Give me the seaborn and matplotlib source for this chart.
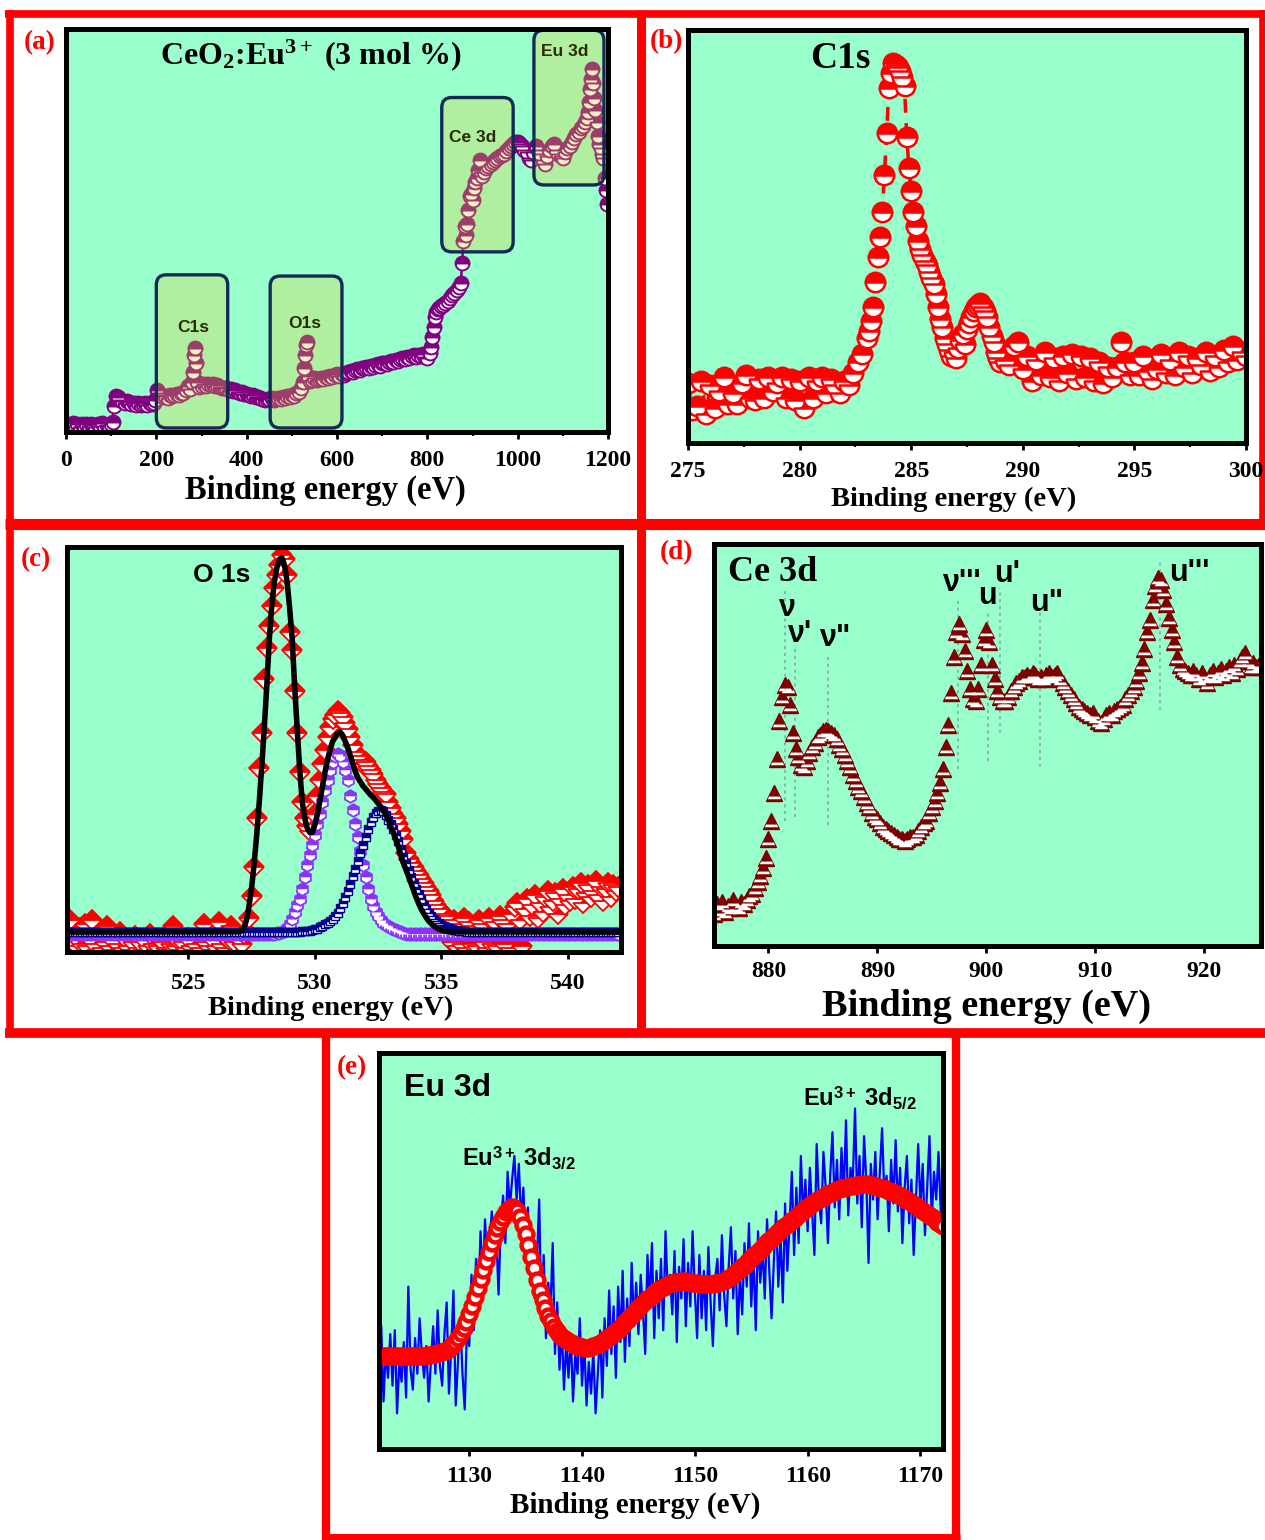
import numpy as np
import matplotlib
matplotlib.use("Agg")
import matplotlib.pyplot as plt
import seaborn as sns
from matplotlib.patches import FancyBboxPatch
from matplotlib.lines import Line2D
from matplotlib.path import Path

# ---------------- (a) survey spectrum ----------------
survey_ev = [
    0, 5, 10, 15, 20, 25, 30, 35, 40, 45,
    50, 55, 60, 65, 70, 75, 80, 85, 90, 95,
    100, 103, 106, 110, 115, 120, 125, 130, 135, 140,
    145, 150, 155, 160, 165, 170, 175, 180, 185, 190,
    195, 198, 201, 205, 210, 215, 220, 225, 230, 235,
    240, 245, 250, 255, 260, 265, 270, 275, 280, 282,
    284, 286, 288, 290, 295, 300, 305, 310, 315, 320,
    325, 330, 335, 340, 345, 350, 355, 360, 365, 370,
    375, 380, 385, 390, 395, 400, 405, 410, 415, 420,
    425, 430, 435, 440, 445, 450, 455, 460, 465, 470,
    475, 480, 485, 490, 495, 500, 505, 510, 515, 520,
    524, 527, 529, 531, 533, 536, 540, 545, 550, 555,
    560, 565, 570, 575, 580, 585, 590, 595, 600, 605,
    610, 615, 620, 625, 630, 635, 640, 645, 650, 655,
    660, 665, 670, 675, 680, 685, 690, 695, 700, 705,
    710, 715, 720, 725, 730, 735, 740, 745, 750, 755,
    760, 765, 770, 775, 780, 785, 790, 795, 800, 805,
    808, 811, 814, 817, 820, 823, 826, 830, 835, 840,
    845, 850, 855, 860, 865, 870, 874, 877, 880, 883,
    885, 888, 891, 894, 897, 900, 903, 906, 910, 913,
    916, 919, 922, 926, 930, 935, 940, 945, 950, 955,
    960, 965, 970, 975, 980, 985, 990, 995, 1000, 1005,
    1010, 1015, 1020, 1025, 1030, 1035, 1040, 1045, 1050, 1055,
    1060, 1065, 1070, 1075, 1080, 1085, 1090, 1095, 1100, 1105,
    1110, 1115, 1120, 1125, 1130, 1135, 1140, 1145, 1150, 1153,
    1156, 1159, 1161, 1163, 1165, 1167, 1169, 1172, 1175, 1178,
    1181, 1184, 1187, 1190, 1193, 1195, 1197,
]
survey_counts = [
    2.0, 1.4, 1.8, 2.3, 1.5, 1.9, 1.2, 2.1, 1.6, 1.9,
    1.4, 2.0, 1.7, 1.3, 1.9, 1.6, 2.2, 1.5, 1.8, 1.6,
    2.0, 2.6, 6.5, 9.0, 8.6, 8.0, 7.6, 7.2, 7.8, 7.4,
    7.0, 7.3, 6.8, 7.2, 6.6, 7.0, 7.3, 6.8, 7.1, 6.9,
    7.2, 8.0, 10.3, 9.8, 9.2, 8.7, 9.0, 8.5, 9.3, 8.9,
    9.2, 9.5, 9.1, 9.8, 9.6, 10.4, 11.5, 10.6, 12.5, 15.0,
    19.0, 20.8, 17.0, 12.5, 11.2, 11.5, 11.8, 11.4, 11.9, 11.6,
    11.8, 11.3, 11.6, 11.2, 11.0, 10.8, 10.9, 10.5, 10.6, 10.2,
    10.3, 10.0, 9.8, 9.9, 9.5, 9.4, 9.2, 9.0, 9.1, 8.8,
    8.6, 8.5, 8.2, 8.0, 8.3, 8.1, 8.4, 8.0, 8.3, 8.5,
    8.2, 8.6, 8.4, 8.9, 8.7, 9.2, 9.0, 9.6, 10.0, 10.8,
    12.5, 16.0, 19.0, 21.5, 22.4, 14.0, 12.6, 13.0, 13.3, 12.8,
    13.1, 13.5, 13.2, 13.7, 13.5, 13.9, 13.7, 14.1, 14.3, 14.0,
    14.4, 14.2, 14.7, 14.9, 15.1, 14.8, 15.4, 15.6, 15.3, 15.8,
    15.9, 16.2, 16.0, 16.4, 16.2, 16.6, 16.8, 16.5, 17.0, 17.2,
    16.9, 17.4, 17.5, 17.3, 17.8, 17.6, 18.0, 18.3, 18.1, 18.6,
    18.4, 18.8, 19.0, 18.7, 19.1, 18.9, 19.3, 18.6, 18.4, 19.6,
    21.0, 23.5, 26.0, 28.5, 29.8, 30.4, 30.8, 31.2, 31.5, 31.9,
    32.5, 33.2, 33.9, 34.6, 35.2, 36.0, 37.0, 42.0, 47.5, 51.0,
    49.0, 51.5, 55.0, 58.5, 59.0, 57.5, 60.5, 62.0, 63.0, 65.0,
    67.5, 64.5, 63.5, 64.5, 65.5, 66.0, 66.5, 67.0, 67.5, 68.0,
    68.5, 68.8, 69.0, 69.8, 70.5, 71.0, 71.5, 72.0, 72.0, 71.5,
    71.0, 70.0, 69.5, 68.0, 67.5, 69.5, 71.0, 70.0, 69.0, 67.5,
    66.5, 68.5, 70.0, 71.0, 71.5, 70.0, 69.0, 68.5, 68.0, 69.5,
    70.5, 71.0, 72.0, 73.0, 74.0, 74.5, 75.5, 76.0, 77.0, 78.0,
    79.5, 82.0, 85.0, 87.5, 90.0, 86.5, 83.0, 80.0, 77.0, 73.5,
    71.5, 70.5, 69.0, 68.0, 63.0, 60.0, 56.5,
]
survey_ticks = [0, 200, 400, 600, 800, 1000, 1200]
region_names = ["C1s", "O1s", "Ce 3d", "Eu 3d"]
region_ev_lo = [200, 452, 832, 1036]
region_ev_hi = [358, 611, 990, 1191]
region_int_lo = [1.0, 1.0, 44.7, 61.3]
region_int_hi = [39.0, 38.7, 83.0, 99.7]
region_label_ev = [281, 529, 901, 1105]
region_label_int = [26.0, 27.0, 73.0, 94.3]

# ---------------- (b) C 1s ----------------
c1s_ev = np.round(np.concatenate([np.arange(275.0, 282.95, 0.2),
                                  np.arange(283.0, 288.95, 0.1),
                                  np.arange(289.0, 300.05, 0.2)]), 1)
c1s_counts = [
    14.5, 8.0, 9.0, 15.0, 7.0,
    14.0, 8.5, 12.5, 16.0, 9.5,
    12.0, 9.5, 14.5, 16.5, 11.0,
    10.5, 15.5, 11.0, 16.0, 12.5,
    14.5, 16.0, 11.0, 15.5, 10.5,
    15.0, 8.5, 16.0, 11.0, 15.0,
    16.0, 12.0, 15.5, 14.0, 12.0,
    15.0, 14.0, 17.0, 19.5, 21.5,
    25.5, 27.0, 29.5, 33.0, 39.0, 45.0, 50.0, 56.0, 65.0, 75.0,
    86.0, 89.5, 92.0, 91.5, 91.0, 90.0, 88.5, 86.5, 74.0, 66.5,
    61.0, 56.0, 52.5, 49.0, 47.0, 45.5, 44.0, 43.0, 41.5, 40.0,
    38.5, 36.0, 33.0, 30.0, 28.0, 25.5, 24.0, 22.5, 21.0, 22.0,
    20.5, 23.0, 25.0, 26.5, 24.0, 27.5, 29.0, 30.5, 32.0, 33.0,
    33.5, 34.0, 33.0, 32.0, 30.5, 28.0, 26.0, 24.5, 22.0, 20.5,
    19.5, 20.0, 19.0, 23.5, 24.5,
    18.0, 21.0, 15.0, 20.0, 16.5,
    22.0, 16.0, 20.5, 15.0, 21.0,
    17.0, 21.5, 15.5, 21.0, 16.0,
    20.5, 15.0, 19.5, 14.5, 18.5,
    16.0, 18.5, 24.5, 19.5, 16.5,
    19.5, 16.5, 21.0, 17.5, 15.5,
    18.0, 21.5, 17.0, 20.0, 16.5,
    22.0, 18.5, 21.0, 17.0, 20.5,
    19.0, 22.0, 17.5, 21.0, 18.5,
    22.5, 19.5, 23.5, 20.0, 22.0,
    21.0,
]
c1s_ticks = [275, 280, 285, 290, 295, 300]

# ---------------- (c) O 1s ----------------
o1s_ev = np.round(np.arange(520.0, 542.05, 0.1), 1)
o1s_counts = [
    7.5, 3.0, 1.0, 8.0, 2.5, 4.0, 1.5, 6.0, 2.0, 7.0,
    1.5, 3.5, 8.0, 2.0, 0.5, 4.5, 1.0, 2.5, 6.5, 1.5,
    3.0, 0.5, 2.0, 5.0, 1.0, 3.5, 1.5, 0.5, 2.5, 4.0,
    1.0, 2.5, 0.5, 3.0, 1.5, 4.5, 2.0, 0.5, 1.5, 3.0,
    2.5, 1.0, 0.5, 2.0, 6.5, 1.5, 3.0, 0.5, 2.5, 1.0,
    3.5, 1.5, 0.5, 2.0, 4.0, 1.0, 7.0, 2.5, 1.5, 0.5,
    3.0, 1.5, 7.5, 2.0, 4.0, 1.0, 3.0, 6.5, 2.5, 4.0,
    3.5, 2.0, 4.5, 5.0, 8.5, 13.8, 21.0, 33.0, 45.5, 54.0,
    67.5, 75.0, 80.5, 85.5, 90.0, 93.0, 95.5, 98.0, 97.0, 93.0,
    79.0, 74.5, 64.5, 54.0, 44.5, 37.0, 33.0, 31.0, 30.0, 31.5,
    34.0, 38.5, 42.5, 46.5, 50.0, 53.0, 55.5, 57.5, 58.5, 59.5,
    59.0, 58.0, 56.5, 55.0, 53.0, 51.0, 49.5, 48.5, 47.5, 46.5,
    47.0, 46.0, 45.0, 44.0, 42.5, 41.5, 40.5, 39.5, 39.0, 37.0,
    35.5, 34.0, 33.0, 31.5, 30.0, 28.0, 24.5, 23.0, 22.0, 21.0,
    20.0, 19.0, 18.0, 17.0, 16.0, 15.0, 14.0, 12.5, 11.5, 10.5,
    9.5, 8.5, 9.0, 7.5, 2.5, 8.0, 1.5, 7.0, 2.0, 8.5,
    1.0, 7.5, 2.0, 6.5, 1.5, 8.0, 7.0, 2.5, 1.0, 8.5,
    2.0, 7.5, 1.5, 9.0, 8.0, 2.0, 7.0, 1.0, 9.5, 11.0,
    12.0, 8.0, 1.5, 10.5, 13.0, 9.0, 11.5, 14.0, 8.5, 12.0,
    10.0, 13.5, 15.0, 11.0, 12.5, 14.5, 9.5, 13.0, 15.5, 11.5,
    14.0, 12.5, 16.0, 13.0, 15.5, 17.0, 12.0, 14.5, 16.5, 13.5,
    15.0, 17.5, 14.0, 16.0, 12.5, 15.5, 17.0, 13.5, 16.5, 15.0,
    16.0,
]
# deconvoluted component near 531 eV (same energy grid)
o1s_comp_531 = [4.5] * 85 + [
    4.6, 4.7, 4.9, 5.2, 6.0, 7.0, 8.2, 9.8, 11.5, 13.0,
    15.5, 18.5, 21.5, 24.0, 26.5, 29.0, 31.5, 34.0, 37.0, 40.0,
    42.5, 45.0, 47.0, 48.5, 49.0, 48.5, 47.0, 45.0, 42.5, 38.5,
    35.0, 31.5, 28.5, 25.0, 21.5, 18.5, 15.5, 13.0, 11.3, 10.0,
    8.9, 8.0, 7.2, 6.7, 6.3, 6.0, 5.7, 5.4, 5.2, 5.0,
    4.8,
] + [4.5] * 85
# deconvoluted component near 532.6 eV (same energy grid)
o1s_comp_532 = [5.0] * 95 + [
    5.1, 5.1, 5.2, 5.3, 5.4, 5.6, 5.8, 6.1, 6.4, 6.8,
    7.2, 7.7, 8.2, 8.8, 9.7, 10.8, 12.0, 13.5, 15.0, 16.8,
    18.7, 20.5, 22.5, 24.5, 26.5, 28.5, 30.3, 32.0, 33.3, 34.3,
    34.8, 35.0, 34.7, 33.8, 32.7, 31.5, 30.3, 29.0, 27.3, 25.5,
    23.8, 22.0, 20.3, 18.5, 17.0, 15.5, 14.2, 13.0, 11.7, 10.5,
    9.6, 8.8, 8.2, 7.6, 7.1, 6.7, 6.4, 6.1, 5.9, 5.7,
    5.5, 5.4, 5.3, 5.2, 5.1, 5.0,
] + [5.0] * 60
o1s_envelope_ev = np.round(np.concatenate([[520.0], np.arange(527.0, 535.35, 0.1), [542.0]]), 1)
o1s_envelope = [4.9] + [
    5.0, 5.2, 6.0, 8.0, 11.5, 16.0, 22.0, 29.0, 37.0, 46.0,
    55.5, 66.0, 77.5, 86.0, 91.5, 95.0, 97.0, 97.3, 95.5, 91.5,
    85.0, 77.5, 65.5, 55.0, 45.0, 37.0, 33.0, 30.5, 29.5, 29.5,
    31.5, 34.0, 37.5, 41.0, 44.5, 47.5, 50.0, 52.0, 53.0, 54.0,
    54.3, 53.5, 52.0, 50.5, 48.5, 46.5, 44.5, 43.0, 42.0, 41.0,
    40.3, 39.5, 38.8, 38.2, 37.5, 36.7, 35.9, 35.0, 33.8, 32.7,
    31.0, 29.5, 27.8, 26.0, 24.0, 22.0, 20.3, 18.7, 17.0, 15.2,
    13.5, 12.0, 10.6, 9.5, 8.5, 7.6, 7.0, 6.4, 6.0, 5.6,
    5.4, 5.2, 5.1, 5.0,
] + [4.9]
o1s_ticks = [525, 530, 535, 540]

# ---------------- (d) Ce 3d ----------------
ce_ev = np.round(np.arange(875.0, 925.01, 0.25), 2)
ce_counts = [
    8.0, 10.5, 9.0, 11.0, 8.5, 10.0, 9.5, 11.5, 10.0, 9.5,
    11.0, 10.5, 11.5, 12.5, 13.0, 14.5, 16.0, 17.5, 19.5, 22.0,
    26.5, 31.0, 38.0, 46.5, 56.0, 62.0, 65.0, 64.5, 60.0, 53.0,
    49.0, 47.0, 45.0, 44.5, 46.0, 48.0, 49.5, 50.5, 52.0, 52.5,
    53.5, 53.7, 53.5, 53.0, 52.5, 51.5, 50.0, 49.0, 47.5, 46.0,
    44.5, 42.5, 41.0, 39.5, 38.5, 37.0, 35.6, 34.5, 33.0, 32.0,
    31.5, 30.5, 29.5, 29.0, 28.5, 28.0, 27.5, 27.0, 26.5, 26.5,
    26.0, 26.5, 27.0, 27.0, 27.5, 28.5, 29.5, 30.5, 31.0, 33.0,
    34.5, 36.0, 38.0, 40.5, 44.0, 49.5, 55.0, 63.0, 72.0, 78.0,
    80.2, 77.5, 73.5, 68.5, 64.0, 61.5, 61.0, 64.0, 70.0, 76.0,
    78.5, 75.5, 70.0, 66.5, 63.5, 62.0, 61.0, 61.0, 62.0, 63.5,
    64.5, 65.5, 66.0, 66.8, 67.0, 67.5, 67.0, 68.0, 67.5, 66.5,
    67.0, 66.5, 67.5, 68.0, 67.0, 67.5, 67.8, 66.5, 65.5, 64.5,
    63.5, 62.5, 61.5, 60.5, 59.5, 59.0, 58.5, 58.0, 57.5, 58.0,
    57.0, 56.0, 55.4, 56.5, 57.5, 58.0, 57.5, 58.5, 59.0, 59.5,
    60.0, 61.5, 62.5, 63.5, 64.5, 66.0, 68.0, 70.5, 74.0, 78.0,
    81.0, 86.0, 89.5, 91.5, 91.0, 88.5, 85.0, 81.5, 78.5, 75.5,
    72.0, 70.0, 69.0, 68.5, 68.0, 67.5, 68.5, 67.5, 66.5, 68.0,
    67.0, 65.5, 67.5, 68.5, 67.0, 68.0, 69.0, 67.5, 68.5, 69.5,
    68.0, 70.0, 69.0, 71.0, 72.0, 72.8, 71.0, 69.5, 70.5, 69.3,
    70.0,
]
ce_ticks = [880, 890, 900, 910, 920]
ce_peak_names = ["ν", "ν'", 'ν"', "ν'''", "u", "u'", 'u"', "u'''"]
ce_peak_ev = [881.5, 882.4, 885.5, 897.4, 900.15, 901.25, 904.9, 915.9]
ce_peak_mark_top = [89, 75, 72, 86, 83, 89, 83, 96]
ce_peak_mark_bottom = [31, 32, 30, 44, 46, 53, 44.6, 58.7]
ce_name_ev = [881.65, 882.85, 886.1, 897.7, 900.1, 901.9, 905.5, 918.6]
ce_name_int = [84.2, 77.7, 76.5, 90.3, 87.0, 92.6, 85.4, 92.8]

# ---------------- (e) Eu 3d ----------------
eu_ev = np.round(np.arange(1122.0, 1172.01, 0.2), 1)
eu_counts = [
    14, 31, 12, 25, 18, 29, 16, 30, 9, 22,
    17, 27, 13, 41, 20, 15, 28, 19, 33, 24,
    18, 26, 12, 22, 31, 19, 35, 21, 16, 29,
    37, 14, 25, 40, 11, 22, 33, 19, 10, 31,
    26, 44, 30, 48, 36, 55, 42, 58, 46, 52,
    60, 48, 54, 39, 57, 64, 52, 70, 61, 68,
    74, 63, 72, 57, 66, 50, 61, 44, 53, 38,
    47, 63, 33, 49, 28, 42, 35, 52, 24, 37,
    20, 31, 15, 27, 18, 29, 12, 24, 19, 33,
    16, 27, 11, 22, 14, 25, 9, 19, 30, 13,
    33, 21, 40, 24, 36, 18, 41, 27, 45, 22,
    38, 26, 47, 31, 42, 29, 44, 35, 24, 49,
    37, 52, 28, 45, 33, 48, 30, 55, 39, 44,
    34, 50, 27, 46, 38, 53, 31, 47, 36, 55,
    40, 28, 49, 33, 45, 30, 51, 37, 26, 43,
    48, 35, 54, 39, 31, 46, 56, 38, 50, 29,
    44, 34, 52, 41, 57, 36, 49, 30, 55, 42,
    51, 38, 58, 45, 33, 47, 60, 41, 54, 37,
    62, 45, 57, 70, 49, 66, 52, 74, 58, 68,
    55, 71, 60, 49, 77, 63, 57, 75, 66, 52,
    69, 80, 61, 73, 58, 76, 64, 83, 59, 71,
    67, 86, 62, 74, 56, 79, 68, 47, 72, 63,
    75, 58, 70, 81, 64, 69, 55, 73, 62, 78,
    60, 71, 52, 66, 74, 57, 68, 49, 63, 77,
    61, 72, 54, 66, 79, 58, 70, 63, 75, 60,
    67,
]
eu_fit_ev = np.round(np.arange(1122.0, 1172.01, 0.25), 2)
eu_fit = [
    23.4, 23.4, 23.4, 23.4, 23.4, 23.4, 23.4, 23.4,
    23.4, 23.4, 23.4, 23.4, 23.5, 23.5, 23.5, 23.6,
    23.6, 23.7, 23.8, 23.9, 24.0, 24.2, 24.4, 24.7,
    25.1, 25.6, 26.3, 27.1, 28.1, 29.2, 30.5, 32.0,
    34.0, 36.2, 38.4, 40.7, 43.0, 45.3, 47.6, 49.8,
    52.0, 54.0, 55.8, 57.4, 58.7, 59.8, 60.6, 61.0,
    60.8, 60.0, 58.6, 56.6, 54.2, 51.5, 48.6, 45.6,
    42.7, 40.0, 37.6, 35.5, 33.7, 32.2, 30.9, 29.9,
    29.0, 28.3, 27.7, 27.2, 26.8, 26.4, 26.1, 25.9,
    25.7, 25.6, 25.6, 25.7, 25.9, 26.2, 26.6, 27.0,
    27.5, 28.0, 28.5, 29.1, 29.7, 30.3, 31.0, 31.7,
    32.5, 33.3, 34.1, 34.9, 35.7, 36.4, 37.1, 37.8,
    38.4, 39.0, 39.6, 40.1, 40.6, 41.0, 41.4, 41.7,
    42.0, 42.1, 42.2, 42.3, 42.3, 42.2, 42.1, 42.0,
    41.9, 41.8, 41.7, 41.6, 41.6, 41.6, 41.7, 41.8,
    42.0, 42.2, 42.5, 42.8, 43.2, 43.7, 44.3, 44.9,
    45.5, 46.1, 46.8, 47.5, 48.2, 48.9, 49.6, 50.3,
    51.0, 51.7, 52.4, 53.1, 53.8, 54.5, 55.1, 55.7,
    56.3, 56.9, 57.5, 58.1, 58.7, 59.3, 59.9, 60.5,
    61.1, 61.6, 62.1, 62.6, 63.1, 63.5, 63.9, 64.3,
    64.7, 65.0, 65.3, 65.6, 65.8, 66.0, 66.2, 66.4,
    66.5, 66.6, 66.7, 66.8, 66.8, 66.8, 66.7, 66.6,
    66.4, 66.2, 66.0, 65.8, 65.5, 65.2, 64.9, 64.6,
    64.2, 63.8, 63.4, 63.0, 62.6, 62.1, 61.6, 61.1,
    60.6, 60.1, 59.6, 59.1, 58.6, 58.0, 57.4, 56.8,
    56.2,
]
eu_ticks = [1130, 1140, 1150, 1160, 1170]

# ---------------- styling ----------------
MINT = "#99ffcc"
RED = "#ff0000"
PURPLE = "#800080"
VIOLET = "#8c32ff"
NAVY = "#000090"
MAROON = "#800000"
BLUE = "#0000ff"

sns.set_theme(style="white")
plt.rcParams.update({
    "font.family": ["Liberation Serif", "DejaVu Serif"],
    "font.weight": "bold",
    "axes.labelweight": "bold",
    "text.color": "black",
    "axes.labelcolor": "black",
    "xtick.color": "black",
    "mathtext.fontset": "custom",
    "mathtext.rm": "Liberation Serif:bold",
    "mathtext.bf": "Liberation Serif:bold",
    "mathtext.it": "Liberation Serif:italic:bold",
    "mathtext.sf": "Liberation Sans:bold",
})
SANS = ["Liberation Sans", "DejaVu Sans"]

# white band drawn across the lower part of each half-filled triangle
TRIANGLE_BAND = Path([(0, 1), (-0.875, -0.75), (0.875, -0.75), (0.70, -0.40),
                      (-0.70, -0.40), (-0.875, -0.75)],
                     [Path.MOVETO, Path.MOVETO, Path.LINETO, Path.LINETO,
                      Path.LINETO, Path.CLOSEPOLY])

W, H = 1265, 1540
fig = plt.figure(figsize=(W / 100, H / 100), dpi=100)
fig.patch.set_facecolor("white")


def fx(x):
    return x / W


def fy(y):
    return 1 - y / H


def make_axes(box, xlim, ticks, minor=None, pad=7):
    left, top, right, bottom = box
    ax = fig.add_axes([fx(left), fy(bottom), (right - left) / W, (bottom - top) / H])
    ax.set_facecolor(MINT)
    ax.set_xlim(*xlim)
    ax.set_ylim(0, 100)
    ax.set_yticks([])
    ax.set_xticks(ticks)
    ax.set_xticklabels([str(t) for t in ticks], fontsize=17, fontweight="bold")
    if minor is not None:
        ax.set_xticks(minor, minor=True)
    ax.tick_params(axis="x", which="major", bottom=True, direction="out",
                   length=5, width=2.0, pad=pad, colors="black")
    ax.tick_params(axis="x", which="minor", bottom=True, direction="out",
                   length=3, width=1.5, colors="black")
    for sp in ax.spines.values():
        sp.set_linewidth(3.6)
        sp.set_color("black")
        sp.set_zorder(10)
    return ax


def axis_labels(ax, box, xlabel, xcenter, xsize, ylabel, ycenter, ysize):
    left, top, right, bottom = box
    ax.set_xlabel(xlabel, fontsize=xsize, fontweight="bold", ha="center", va="center")
    ax.xaxis.set_label_coords((xcenter[0] - left) / (right - left),
                              (bottom - xcenter[1]) / (bottom - top))
    ax.set_ylabel(ylabel, fontsize=ysize, fontweight="bold", ha="center", va="center")
    ax.yaxis.set_label_coords((ycenter[0] - left) / (right - left),
                              (bottom - ycenter[1]) / (bottom - top))


def trace(ax, x, y, color, **kw):
    sns.lineplot(x=np.asarray(x, dtype=float), y=np.asarray(y, dtype=float), ax=ax,
                 color=color, estimator=None, sort=False, legend=False, **kw)


def ftext(x, y, s, **kw):
    fig.text(fx(x), fy(y), s, ha="center", va="center", **kw)


def frame_line(x0, y0, x1, y1, lw=5.5):
    fig.add_artist(Line2D([fx(x0), fx(x1)], [fy(y0), fy(y1)], transform=fig.transFigure,
                          color=RED, lw=lw, solid_capstyle="butt", zorder=0))


# ---- (a) survey ----
box_a = (66, 29, 608, 432)
ax = make_axes(box_a, (0, 1200), survey_ticks, minor=[100, 300, 500, 700, 900, 1100], pad=8)
trace(ax, survey_ev, survey_counts, PURPLE, lw=1.8, marker="o", markersize=10,
      fillstyle="top", markerfacecoloralt="white", markeredgecolor=PURPLE,
      markeredgewidth=1.4, zorder=3)
for name, x0, x1, y0, y1, tx, ty in zip(region_names, region_ev_lo, region_ev_hi,
                                        region_int_lo, region_int_hi,
                                        region_label_ev, region_label_int):
    ax.add_patch(FancyBboxPatch((x0, y0), x1 - x0, y1 - y0,
                                boxstyle="round,pad=0,rounding_size=22", mutation_aspect=0.112,
                                facecolor=(0.886, 0.804, 0.224, 0.3), edgecolor="#112b55",
                                lw=2.4, zorder=4, clip_on=False))
    ax.text(tx, ty, name, ha="center", va="center", fontsize=12.5, family=SANS,
            fontweight="bold", color="#2b2a05", zorder=5)
axis_labels(ax, box_a, "Binding energy (eV)", (325, 490), 23.5,
            "Intensity (a. u.)", (35, 232), 29)
ftext(311, 55, r"CeO$_\mathbf{2}$:Eu$^\mathbf{3+}$ (3 mol %)", fontsize=23)

# ---- (b) C 1s ----
box_b = (688, 30, 1246, 443)
ax = make_axes(box_b, (275, 300), c1s_ticks, minor=[277.5, 282.5, 287.5, 292.5, 297.5], pad=8)
trace(ax, c1s_ev, c1s_counts, RED, lw=2.5, linestyle=(0, (4, 3)), marker="o", markersize=14,
      fillstyle="top", markerfacecoloralt="white", markeredgecolor=RED,
      markeredgewidth=1.8, zorder=3)
axis_labels(ax, box_b, "Binding energy (eV)", (954, 499), 20.5,
            "Intensity (a.u.)", (664, 237), 29)
ftext(840, 58, "C1s", fontsize=27)

# ---- (c) O 1s ----
box_c = (67, 547, 621, 952)
ax = make_axes(box_c, (520.2, 542.1), o1s_ticks, pad=10)
trace(ax, o1s_ev, o1s_counts, RED, lw=0, marker="D", markersize=10,
      fillstyle="top", markerfacecoloralt="white", markeredgecolor=RED,
      markeredgewidth=1.3, zorder=3)
trace(ax, o1s_ev, o1s_comp_531, VIOLET, lw=0, marker="h", markersize=9,
      fillstyle="top", markerfacecoloralt="white", markeredgecolor=VIOLET,
      markeredgewidth=1.3, zorder=4)
trace(ax, o1s_ev, o1s_comp_532, NAVY, lw=0, marker="s", markersize=6,
      fillstyle="top", markerfacecoloralt="white", markeredgecolor=NAVY,
      markeredgewidth=1.0, zorder=5)
trace(ax, o1s_envelope_ev, o1s_envelope, "black", lw=4, zorder=6)
axis_labels(ax, box_c, "Binding energy (eV)", (331, 1008), 20.5,
            "Intensity (a.u.)", (33, 763), 30)
ftext(222, 575, "O 1s", fontsize=19, family=SANS)

# ---- (d) Ce 3d ----
box_d = (714, 544, 1261, 946)
ax = make_axes(box_d, (875, 925.2), ce_ticks, pad=6)
ax.vlines(ce_peak_ev, ce_peak_mark_bottom, ce_peak_mark_top, colors="#7fa596",
          linestyles=(0, (2, 2.5)), lw=1.1, zorder=1)
trace(ax, ce_ev, ce_counts, MAROON, lw=0, marker="^", markersize=11,
      markeredgecolor=MAROON, markeredgewidth=1.0, zorder=3)
trace(ax, ce_ev, ce_counts, "white", lw=0, marker=TRIANGLE_BAND, markersize=11,
      markerfacecolor="white", markeredgecolor="white", markeredgewidth=0, zorder=3.5)
for name, tx, ty in zip(ce_peak_names, ce_name_ev, ce_name_int):
    ax.text(tx, ty, name, ha="center", va="center", fontsize=22, family=SANS,
            fontweight="bold", color="black", zorder=6)
axis_labels(ax, box_d, "Binding energy (eV)", (987, 1006), 27.5,
            "Intensity (a.u.)", (668, 747), 35)
ftext(773, 573, "Ce 3d", fontsize=26)

# ---- (e) Eu 3d ----
box_e = (379, 1053, 943, 1449)
ax = make_axes(box_e, (1122, 1172), eu_ticks, pad=7)
trace(ax, eu_ev, eu_counts, BLUE, lw=1.6, zorder=3)
trace(ax, eu_fit_ev, eu_fit, RED, lw=0, marker="o", markersize=10,
      markerfacecolor="white", markeredgecolor=RED, markeredgewidth=3.2, zorder=4)
axis_labels(ax, box_e, "Binding energy (eV)", (635, 1505), 21,
            "Intensity (a.u.)", (345, 1252), 28.5)
ftext(448, 1088, "Eu 3d", fontsize=23, family=SANS)
ftext(519, 1158, r"Eu$^{\mathsf{3+}}$ 3d$_{\mathsf{3/2}}$", fontsize=17, family=SANS)
ftext(860, 1098, r"Eu$^{\mathsf{3+}}$ 3d$_{\mathsf{5/2}}$", fontsize=17, family=SANS)

# ---- panel letters ----
for letter, (lx, ly) in zip(["(a)", "(b)", "(c)", "(d)", "(e)"],
                            [(40, 43), (666, 42), (36, 560), (676, 553), (352, 1068)]):
    ftext(lx, ly, letter, fontsize=19.5, color=RED)

# ---- red panel frames ----
frame_line(5, 13.5, 1265, 13.5)
frame_line(5, 524, 1265, 524, lw=8)
frame_line(5, 1033, 1265, 1033, lw=7)
frame_line(10, 10, 10, 1037)
frame_line(640.5, 10, 640.5, 1033, lw=6.5)
frame_line(1263, 10, 1263, 524)
frame_line(326, 1033, 326, 1540, lw=6)
frame_line(956, 1033, 956, 1540, lw=6)
frame_line(322, 1537, 960, 1537, lw=5)

fig.savefig("out.png", dpi=100, facecolor="white")
